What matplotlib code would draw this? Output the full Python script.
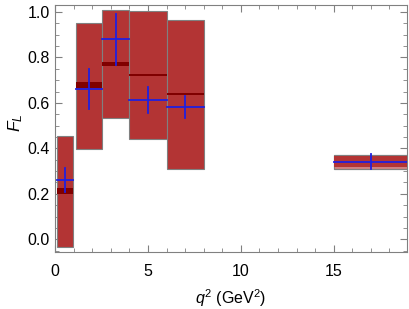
import matplotlib.pyplot as plt
from matplotlib.patches import Rectangle
from matplotlib.ticker import MultipleLocator

plt.rcParams['font.family'] = ['Liberation Sans', 'DejaVu Sans']
plt.rcParams['mathtext.fontset'] = 'custom'
plt.rcParams['mathtext.it'] = 'Liberation Sans:italic'
plt.rcParams['mathtext.rm'] = 'Liberation Sans'

# q2 bins
bin_lo = [0.1, 1.1, 2.5, 4.0, 6.0, 15.0]
bin_hi = [0.98, 2.5, 4.0, 6.0, 8.0, 19.0]

# prediction: total band and central band
pred_lo = [-0.032, 0.396, 0.533, 0.44, 0.31, 0.309]
pred_hi = [0.456, 0.95, 1.009, 1.004, 0.965, 0.371]
cen_lo = [0.199, 0.665, 0.763, 0.719, 0.634, 0.316]
cen_hi = [0.225, 0.694, 0.782, 0.727, 0.642, 0.366]

# measurement
fl = [0.262, 0.662, 0.88, 0.613, 0.581, 0.342]
fl_up = [0.313, 0.749, 0.991, 0.669, 0.631, 0.376]
fl_dn = [0.21, 0.574, 0.767, 0.555, 0.533, 0.31]

fig, ax = plt.subplots(figsize=(4.09, 3.09), dpi=100)
fig.subplots_adjust(left=0.135, right=0.995, top=0.984, bottom=0.185)

for i in range(len(bin_lo)):
    w = bin_hi[i] - bin_lo[i]
    ax.add_patch(Rectangle((bin_lo[i], pred_lo[i]), w, pred_hi[i] - pred_lo[i],
                           facecolor='#b33434', edgecolor='#808080', lw=0.8, zorder=2))
    ax.add_patch(Rectangle((bin_lo[i], cen_lo[i]), w, cen_hi[i] - cen_lo[i],
                           facecolor='#800000', edgecolor='none', lw=0, zorder=3))
    if i == 5:
        ax.add_patch(Rectangle((bin_lo[i], cen_lo[i]), w, cen_hi[i] - cen_lo[i],
                               facecolor='#b33434', edgecolor='none', zorder=3))
        ax.add_patch(Rectangle((bin_lo[i], pred_lo[i]), w, pred_hi[i] - pred_lo[i],
                               facecolor='#d08080', edgecolor='#808080', lw=0.8, zorder=2))
    mid = 0.5 * (bin_lo[i] + bin_hi[i])
    ax.plot([bin_lo[i], bin_hi[i]], [fl[i], fl[i]], color='#1f1fe0', lw=1.3, zorder=4)
    ax.plot([mid, mid], [fl_dn[i], fl_up[i]], color='#1f1fe0', lw=1.3, zorder=4)

ax.set_xlim(0, 18.95)
ax.set_ylim(-0.055, 1.031)
ax.xaxis.set_major_locator(MultipleLocator(5))
ax.xaxis.set_minor_locator(MultipleLocator(1))
ax.yaxis.set_major_locator(MultipleLocator(0.2))
ax.yaxis.set_minor_locator(MultipleLocator(0.05))
ax.yaxis.set_major_formatter(plt.FuncFormatter(lambda v, p: '%.1f' % v))
ax.tick_params(which='both', direction='in', top=True, right=True, color='#808080',
               labelsize=11.5)
ax.tick_params(axis='x', pad=9)
ax.tick_params(axis='y', pad=4)
ax.tick_params(which='major', length=5, width=0.8)
ax.tick_params(which='minor', length=3, width=0.6)
for s in ax.spines.values():
    s.set_color('#808080')
    s.set_linewidth(0.8)

ax.set_xlabel(r'$q^2$ (GeV$^2$)', fontsize=11.5, labelpad=6)
ax.set_ylabel(r'$F_L$', fontsize=12.5)
ax.yaxis.set_label_coords(-0.087, 0.524)

fig.savefig('out.png')
